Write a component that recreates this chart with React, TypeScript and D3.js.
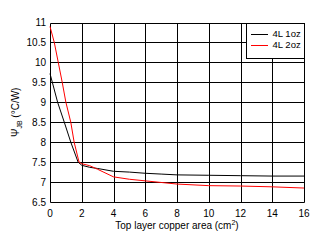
import React from "react";
import * as d3 from "d3";

const xTicks = [0, 2, 4, 6, 8, 10, 12, 14, 16];
const yTicks = [6.5, 7, 7.5, 8, 8.5, 9, 9.5, 10, 10.5, 11];
const seriesNames = ["4L 1oz", "4L 2oz"];
const seriesColors = ["#000000", "#ff0000"];

const area1oz = [0, 0.48, 0.9, 1.31, 1.77, 2, 2.5, 3, 4, 5, 6, 7, 8, 10, 12, 14, 16];
const psi1oz = [9.72, 9.0, 8.5, 8.0, 7.5, 7.42, 7.37, 7.34, 7.27, 7.25, 7.22, 7.2, 7.18, 7.17, 7.16, 7.15, 7.15];
const area2oz = [0, 0.27, 0.52, 0.77, 1.0, 1.31, 1.52, 1.83, 2, 2.5, 3, 4, 5, 6, 7, 8, 10, 12, 14, 16];
const psi2oz = [10.9, 10.5, 10.0, 9.5, 9.0, 8.5, 8.0, 7.5, 7.46, 7.41, 7.32, 7.13, 7.07, 7.03, 6.99, 6.95, 6.91, 6.9, 6.88, 6.85];

export default function App() {
  const W = 324, H = 243;
  const left = 50, right = 304, top = 22.5, bottom = 202;
  const x = d3.scaleLinear().domain([0, 16]).range([left, right]);
  const y = d3.scaleLinear().domain([6.5, 11]).range([bottom, top]);
  const px = (v: number) => Math.round(v) + 0.5;
  const line = d3.line<[number, number]>().x(d => x(d[0])).y(d => y(d[1]));
  const s1 = area1oz.map((a, i) => [a, psi1oz[i]] as [number, number]);
  const s2 = area2oz.map((a, i) => [a, psi2oz[i]] as [number, number]);
  const font = "'Liberation Sans', Arial, sans-serif";
  const lx = 246, lw = 304 - 246, lh = 35;
  return (
    <svg width={W} height={H} style={{ position: "absolute", left: 0, top: 0, background: "#fff" }} fontFamily={font}>
      <rect x={0} y={0} width={W} height={H} fill="#fff" />
      {xTicks.map(t => (
        <line key={"gx" + t} x1={px(x(t))} x2={px(x(t))} y1={px(top)} y2={px(bottom)} stroke="#000" strokeWidth={1} />
      ))}
      {yTicks.map(t => (
        <line key={"gy" + t} x1={px(left)} x2={px(right)} y1={px(y(t))} y2={px(y(t))} stroke="#000" strokeWidth={1} />
      ))}
      <path d={line(s1) || ""} fill="none" stroke={seriesColors[0]} strokeWidth={1} />
      <path d={line(s2) || ""} fill="none" stroke={seriesColors[1]} strokeWidth={1} />
      <rect x={px(lx)} y={px(top)} width={lw} height={lh} fill="#fff" stroke="#000" strokeWidth={1} />
      {seriesNames.map((n, i) => (
        <g key={n}>
          <line x1={251} x2={268} y1={34.5 + i * 11} y2={34.5 + i * 11} stroke={seriesColors[i]} strokeWidth={1} />
          <text x={272.5} y={34 + i * 11} dy="0.35em" fontSize={9.5} fill="#000">{n}</text>
        </g>
      ))}
      {yTicks.map(t => (
        <text key={"ty" + t} x={46} y={y(t)} dy="0.35em" textAnchor="end" fontSize={10} fill="#000">{t}</text>
      ))}
      {xTicks.map(t => (
        <text key={"tx" + t} x={x(t)} y={213} dy="0.35em" textAnchor="middle" fontSize={10} fill="#000">{t}</text>
      ))}
      <text x={177} y={225} dy="0.35em" textAnchor="middle" fontSize={10} fill="#000">
        Top layer copper area (cm<tspan dy="-4" fontSize={7}>2</tspan><tspan dy="4">)</tspan>
      </text>
      <text transform={`translate(15,${(top + bottom) / 2}) rotate(-90)`} textAnchor="middle" dy="0.35em" fontSize={10} fill="#000">
        Ψ<tspan dy="3" fontSize={7}>JB</tspan><tspan dy="-3"> (°C/W)</tspan>
      </text>
    </svg>
  );
}
